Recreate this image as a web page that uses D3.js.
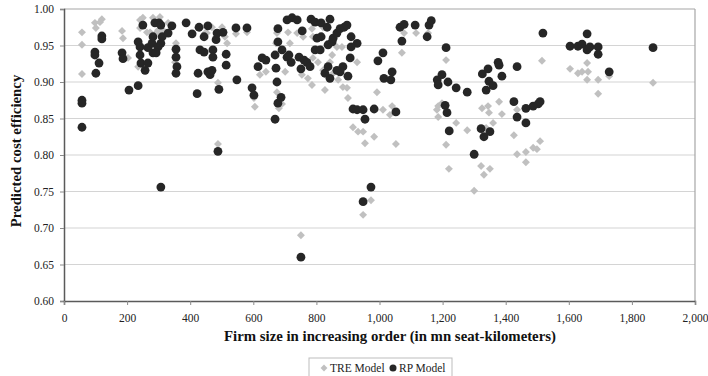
<!DOCTYPE html>
<html><head><meta charset="utf-8">
<script src="https://cdn.jsdelivr.net/npm/d3@7/dist/d3.min.js"></script>
<style>body{margin:0;background:#fff}svg{display:block}</style>
</head><body><svg id="c" width="708" height="376"></svg>
<script>
// TRE Model (gray diamonds)
const treX=[57,57,57,98,101,114,120,184,187,203,235,241,250,241,263,282,304,295,314,330,355,352,431,453,469,485,488,488,501,510,517,545,580,621,640,602,605,675,672,716,701,675,681,691,710,739,758,786,821,789,754,773,786,789,805,821,827,843,850,853,865,881,869,884,897,900,884,929,916,932,948,954,983,992,1011,1040,1033,1052,1071,1078,1116,1154,1182,1186,1186,1211,1198,1211,1220,1243,1278,1325,1344,1347,1379,1388,1360,1338,1322,1331,1350,1300,1426,1436,1464,1464,1487,1499,1509,1436,1515,1604,1629,1642,1658,1661,1658,1693,1693,1728,1867,751,948,973,273,298,447];
const treY=[0.968,0.951,0.911,0.981,0.974,0.982,0.986,0.970,0.960,0.933,0.921,0.985,0.988,0.974,0.968,0.988,0.989,0.968,0.971,0.981,0.953,0.927,0.974,0.967,0.975,0.967,0.899,0.815,0.975,0.962,0.953,0.966,0.968,0.910,0.914,0.878,0.866,0.967,0.953,0.953,0.914,0.886,0.864,0.870,0.968,0.967,0.962,0.973,0.975,0.962,0.910,0.905,0.896,0.933,0.927,0.916,0.889,0.927,0.937,0.912,0.948,0.948,0.903,0.893,0.892,0.878,0.921,0.927,0.838,0.832,0.832,0.816,0.825,0.886,0.862,0.867,0.855,0.815,0.940,0.967,0.967,0.967,0.862,0.867,0.852,0.930,0.871,0.814,0.781,0.844,0.834,0.864,0.867,0.858,0.873,0.856,0.844,0.837,0.785,0.773,0.781,0.751,0.827,0.801,0.804,0.790,0.810,0.808,0.819,0.862,0.929,0.918,0.912,0.914,0.926,0.914,0.903,0.903,0.884,0.908,0.899,0.690,0.718,0.738,0.968,0.971,0.967];
// RP Model (dark circles)
const rpX=[57,57,57,101,98,98,111,120,120,184,187,206,235,250,235,241,241,244,257,266,266,279,282,282,288,301,307,311,307,298,292,330,342,355,355,358,355,387,406,428,456,422,425,431,444,444,456,463,469,472,472,482,485,491,488,504,514,514,545,548,580,596,602,615,628,640,669,672,675,678,688,669,678,678,691,707,720,713,745,751,761,770,780,707,723,739,755,783,796,815,802,815,796,812,834,843,837,850,853,865,875,888,897,910,929,910,907,900,884,875,865,843,827,837,916,929,948,954,983,995,1011,1014,1040,1036,1052,1065,1078,1071,1113,1151,1157,1164,1183,1186,1211,1198,1217,1243,1278,1208,1214,1221,1300,1326,1344,1347,1360,1338,1376,1379,1388,1436,1426,1436,1464,1464,1487,1503,1509,1322,1331,1350,1518,1604,1629,1642,1658,1658,1667,1693,1693,1728,1867,307,751,948,973];
const rpY=[0.875,0.871,0.838,0.912,0.941,0.937,0.926,0.963,0.959,0.940,0.932,0.889,0.895,0.978,0.955,0.948,0.937,0.926,0.916,0.926,0.947,0.953,0.940,0.962,0.981,0.981,0.978,0.962,0.953,0.948,0.940,0.967,0.977,0.945,0.934,0.921,0.912,0.981,0.966,0.975,0.977,0.884,0.912,0.944,0.962,0.941,0.914,0.910,0.916,0.944,0.934,0.958,0.967,0.890,0.805,0.968,0.923,0.938,0.974,0.903,0.974,0.892,0.882,0.921,0.933,0.930,0.937,0.919,0.900,0.871,0.879,0.849,0.973,0.955,0.944,0.934,0.927,0.937,0.934,0.918,0.930,0.927,0.921,0.985,0.988,0.985,0.970,0.986,0.982,0.981,0.960,0.962,0.944,0.944,0.975,0.986,0.951,0.955,0.960,0.967,0.973,0.975,0.978,0.962,0.953,0.948,0.933,0.908,0.921,0.914,0.916,0.905,0.912,0.921,0.863,0.862,0.862,0.849,0.863,0.929,0.940,0.905,0.914,0.903,0.859,0.975,0.979,0.956,0.978,0.962,0.978,0.984,0.903,0.896,0.947,0.910,0.900,0.892,0.886,0.868,0.858,0.833,0.801,0.911,0.918,0.901,0.895,0.889,0.927,0.923,0.908,0.921,0.873,0.852,0.864,0.844,0.867,0.870,0.873,0.836,0.825,0.832,0.967,0.949,0.949,0.952,0.966,0.944,0.948,0.948,0.938,0.914,0.947,0.756,0.660,0.736,0.756];
const xTicks=[0,200,400,600,800,1000,1200,1400,1600,1800,2000];
const yTicks=[0.60,0.65,0.70,0.75,0.80,0.85,0.90,0.95,1.00];
const seriesNames=["TRE Model","RP Model"];

const svg=d3.select("#c");
const FONT="'Liberation Serif','DejaVu Serif',serif";
const L=64,R=695,T=9,B=301;
const x=d3.scaleLinear().domain([0,2000]).range([L,R]);
const y=d3.scaleLinear().domain([0.6,1.0]).range([B,T]);

// gridlines
svg.append("g").selectAll("line").data(yTicks.filter(v=>v>0.6&&v<1.0)).join("line")
  .attr("x1",L).attr("x2",R).attr("y1",d=>y(d)).attr("y2",d=>y(d))
  .attr("stroke","#d4d4d4").attr("stroke-width",1.2);
// border top/right
svg.append("line").attr("x1",L).attr("x2",R).attr("y1",T).attr("y2",T).attr("stroke","#a6a6a6").attr("stroke-width",1.2);
svg.append("line").attr("x1",R).attr("x2",R).attr("y1",T).attr("y2",B).attr("stroke","#a6a6a6").attr("stroke-width",1.2);

// axes
const yAxis=d3.axisLeft(y).tickValues(yTicks).tickFormat(d3.format(".2f")).tickSize(4).tickPadding(6);
const xAxis=d3.axisBottom(x).tickValues(xTicks).tickFormat(d3.format(",")).tickSize(4).tickPadding(9);
const gy=svg.append("g").attr("transform",`translate(${L},0)`).call(yAxis);
const gx=svg.append("g").attr("transform",`translate(0,${B})`).call(xAxis);
[gx,gy].forEach(g=>{
  g.select(".domain").attr("stroke","#5a5a5a").attr("stroke-width",1.5);
  g.selectAll(".tick line").attr("stroke","#8a8a8a");
  g.selectAll(".tick text").attr("font-family",FONT).attr("font-size",11.5).attr("fill","#222");
});

// TRE diamonds
const diamond=d3.symbol().type(d3.symbolDiamond2).size(40);
svg.append("g").selectAll("path").data(treX.map((v,i)=>[v,treY[i]])).join("path")
  .attr("d",diamond).attr("transform",d=>`translate(${x(d[0])},${y(d[1])})`)
  .attr("fill","#c0c0c0");
// RP circles
svg.append("g").selectAll("circle").data(rpX.map((v,i)=>[v,rpY[i]])).join("circle")
  .attr("cx",d=>x(d[0])).attr("cy",d=>y(d[1])).attr("r",4.4)
  .attr("fill","#262626");

// axis titles
svg.append("text").attr("x",390).attr("y",341).attr("text-anchor","middle")
  .attr("font-family",FONT).attr("font-weight","bold").attr("font-size",14.8).attr("fill","#111")
  .text("Firm size in increasing order (in mn seat-kilometers)");
svg.append("text").attr("transform","translate(21,151) rotate(-90)").attr("text-anchor","middle")
  .attr("font-family",FONT).attr("font-weight","bold").attr("font-size",14.8).attr("fill","#111")
  .text("Predicted cost efficiency");

// legend
const lg=svg.append("g");
lg.append("rect").attr("x",309).attr("y",358).attr("width",143).attr("height",24)
  .attr("fill","#fff").attr("stroke","#bdbdbd");
lg.append("path").attr("d",d3.symbol().type(d3.symbolDiamond2).size(30)).attr("transform","translate(324,368)").attr("fill","#c0c0c0");
lg.append("text").attr("x",330).attr("y",372).attr("font-family",FONT).attr("font-size",11.5).attr("fill","#222").text(seriesNames[0]);
lg.append("circle").attr("cx",393).attr("cy",368).attr("r",3.5).attr("fill","#262626");
lg.append("text").attr("x",399).attr("y",372).attr("font-family",FONT).attr("font-size",11.5).attr("fill","#222").text(seriesNames[1]);
</script></body></html>
